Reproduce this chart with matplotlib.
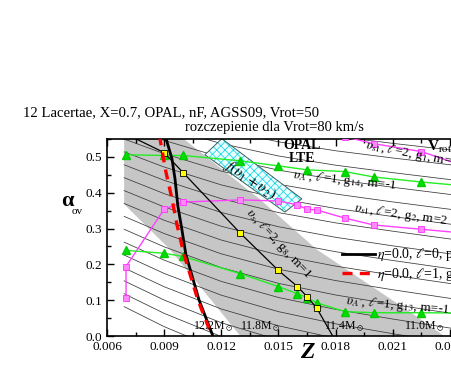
import numpy as np
import matplotlib.pyplot as plt
from matplotlib.ticker import MultipleLocator, FormatStrFormatter

plt.rcParams['font.family'] = ['Liberation Serif', 'DejaVu Serif']
plt.rcParams['mathtext.fontset'] = 'stix'
plt.rcParams['hatch.linewidth'] = 0.6

# constant-mass lines: alpha at Z=0.0069 and at Z=0.027, shared bend along Z
iso_z = [0.0069, 0.009, 0.012, 0.015, 0.018, 0.021, 0.024, 0.027]
iso_bend = [0.0, 0.19, 0.415, 0.585, 0.711, 0.813, 0.908, 1.0]
iso_left = [0.082, 0.118, 0.154, 0.190, 0.226, 0.262, 0.298, 0.334, 0.370,
            0.406, 0.442, 0.478, 0.514, 0.550, 0.586, 0.622, 0.658, 0.694,
            0.730, 0.766, 0.802]
iso_right = [-0.212, -0.170, -0.128, -0.086, -0.044, -0.002, 0.040, 0.082, 0.124,
             0.166, 0.208, 0.250, 0.292, 0.334, 0.376, 0.418, 0.460, 0.502,
             0.544, 0.586, 0.628]
mass_labels = ['12.2', '11.8', '11.4', '11.0']
mass_label_z = [0.01051, 0.01297, 0.01738, 0.02157]

# grey band
band_z = [0.0069, 0.0069, 0.0093, 0.0130, 0.0237, 0.0223, 0.0170, 0.0140, 0.0098]
band_a = [0.56, 0.368, 0.242, 0.0, 0.0, 0.053, 0.242, 0.383, 0.56]

# eta=0.0 tracks
eta0_z = [0.00905, 0.00941, 0.00957, 0.00972, 0.00993, 0.01014, 0.01083, 0.01156]
eta0_a = [0.56, 0.495, 0.439, 0.363, 0.298, 0.228, 0.101, 0.0]
eta1_z = [0.00875, 0.00909, 0.00941, 0.00967, 0.01004, 0.01077, 0.01151]
eta1_a = [0.56, 0.459, 0.383, 0.312, 0.228, 0.101, 0.0]

# v_s, l=2, g8, m=1 (thin black, yellow squares)
g8_z = [0.0075, 0.009, 0.010, 0.013, 0.015, 0.016, 0.0165, 0.017, 0.01785]
g8_a = [0.551, 0.512, 0.456, 0.287, 0.183, 0.138, 0.110, 0.079, 0.0]

# v_A', l=1, g14 / g13 (green triangles)
g14_z = [0.007, 0.009, 0.010, 0.013, 0.015, 0.0165, 0.0185, 0.020, 0.0225, 0.025]
g14_a = [0.506, 0.504, 0.504, 0.489, 0.475, 0.464, 0.459, 0.444, 0.430, 0.418]
g13_z = [0.007, 0.009, 0.010, 0.013, 0.015, 0.016, 0.0165, 0.017, 0.0185, 0.020, 0.0225, 0.025]
g13_a = [0.239, 0.231, 0.222, 0.174, 0.138, 0.118, 0.107, 0.093, 0.068, 0.065, 0.065, 0.064]

# v_s1, l=2, g2 / g1 (magenta squares)
g2_z = [0.007, 0.007, 0.009, 0.010, 0.013, 0.015, 0.016, 0.0165, 0.017, 0.0185, 0.020, 0.0225, 0.025]
g2_a = [0.107, 0.194, 0.354, 0.374, 0.380, 0.377, 0.366, 0.354, 0.352, 0.329, 0.310, 0.298, 0.286]
g1_z = [0.0185, 0.020, 0.0225, 0.025]
g1_a = [0.556, 0.537, 0.515, 0.470]

# f(v1+v2) box
box_z = [0.01114, 0.01203, 0.01623, 0.01534]
box_a = [0.506, 0.551, 0.383, 0.346]

fig = plt.figure(figsize=(4.52, 3.82), dpi=100)
ax = fig.add_axes([0.2367, 0.1204, 0.885, 0.5157])

ax.fill(band_z, band_a, color='#c6c6c6', lw=0, zorder=0)

for a0, a1 in zip(iso_left, iso_right):
    ax.plot(iso_z, [a0 + (a1 - a0) * b for b in iso_bend], color='#383838', lw=0.55, zorder=1)

ax.fill(box_z, box_a, facecolor='#eaffff', edgecolor='#22d8e8', hatch='xxxx', lw=0, zorder=2)
ax.fill(box_z, box_a, facecolor='none', edgecolor='#406060', lw=0.7, zorder=2)
ax.text(0.0135, 0.437, r'$f(\upsilon_1+\upsilon_2)$', rotation=-33, fontsize=11,
        ha='center', va='center', zorder=3)

sq = dict(color='#ff40ff', lw=1.0, marker='s', ms=5, mfc='#ff88ff', mec='#ff30ff', mew=0.6, zorder=4)
ax.plot(g2_z, g2_a, **sq)
ax.plot(g1_z, g1_a, **sq)
tri = dict(color='#22ee22', lw=1.0, marker='^', ms=6, mfc='#00dd00', mec='#00cc00', zorder=4)
ax.plot(g14_z, g14_a, **tri)
ax.plot(g13_z, g13_a, **tri)

ax.plot(g8_z, g8_a, color='black', lw=0.9, zorder=5)
ax.plot(g8_z[1:-1], g8_a[1:-1], ls='none', marker='s', ms=5, mfc='#ffff00', mec='black',
        mew=0.6, zorder=6)

ax.plot(eta0_z, eta0_a, color='black', lw=2.0, zorder=5,
        label=r'$\eta$=0.0, $\ell$=0, p$_1$')
ax.plot(eta1_z, eta1_a, color='#ff0000', lw=2.4, ls=(0, (3, 2.2)), zorder=6,
        label=r'$\eta$=0.0, $\ell$=1, g$_{14}$')

ax.legend(loc='upper left', bbox_to_anchor=(0.5875, 0.455), frameon=False,
          fontsize=10, handlelength=2.4, handletextpad=0.1, borderpad=0,
          borderaxespad=0, labelspacing=0.2)

for lab, z in zip(mass_labels, mass_label_z):
    ax.text(z, 0.006, lab + r'M$_\odot$', fontsize=8.5, ha='left', va='bottom', zorder=7)

ax.text(0.01623, 0.532, 'OPAL', fontsize=10, fontweight='bold', ha='center', va='center', zorder=7)
ax.text(0.01623, 0.495, 'LTE', fontsize=10, fontweight='bold', ha='center', va='center', zorder=7)
ax.text(0.0228, 0.527, r'V$_{\rm rot}$=80', fontsize=11, fontweight='bold', ha='left', va='center', zorder=7)
ax.text(0.0195, 0.508, r"$\upsilon_{s1}$, $\ell$=2, g$_1$, m=2", fontsize=9.5, rotation=-11,
        ha='left', va='center', zorder=7)
ax.text(0.0157, 0.433, r"$\upsilon_{A'}$, $\ell$=1, g$_{14}$, m=-1", fontsize=9.5, rotation=-6,
        ha='left', va='center', zorder=7)
ax.text(0.0189, 0.338, r"$\upsilon_{s1}$, $\ell$=2, g$_2$, m=2", fontsize=9.5, rotation=-8,
        ha='left', va='center', zorder=7)
ax.text(0.0150, 0.258, r"$\upsilon_{s}$, $\ell$=2, g$_8$, m=1", fontsize=9.5, rotation=-47,
        ha='center', va='center', zorder=7)
ax.text(0.0185, 0.086, r"$\upsilon_{A'}$, $\ell$=1, g$_{13}$, m=-1", fontsize=9.5, rotation=-5,
        ha='left', va='center', zorder=7)

ax.set_xlim(0.006, 0.027)
ax.set_ylim(0.0, 0.55)
ax.xaxis.set_major_locator(MultipleLocator(0.003))
ax.xaxis.set_minor_locator(MultipleLocator(0.0015))
ax.yaxis.set_major_locator(MultipleLocator(0.1))
ax.yaxis.set_minor_locator(MultipleLocator(0.05))
ax.xaxis.set_major_formatter(FormatStrFormatter('%.3f'))
ax.yaxis.set_major_formatter(FormatStrFormatter('%.1f'))
ax.tick_params(which='both', direction='in', top=True, labelsize=9.5, width=1.0)
ax.tick_params(which='major', length=5)
ax.tick_params(which='minor', length=3)
for s in ax.spines.values():
    s.set_linewidth(1.2)

fig.text(307 / 452, 1 - 352 / 382, 'Z', fontsize=17, fontweight='bold', style='italic',
         ha='center', va='center')
fig.text(67 / 452, 1 - 201 / 382, 'α', fontsize=16, fontweight='bold', ha='center', va='center')
fig.text(77 / 452, 1 - 211 / 382, 'ov', fontsize=8, ha='center', va='center')

fig.text(23 / 452, 1 - 113 / 382, '12 Lacertae, X=0.7, OPAL, nF, AGSS09, Vrot=50',
         fontsize=10.6, ha='left', va='center')
fig.text(185 / 452, 1 - 128 / 382, 'rozczepienie dla Vrot=80 km/s',
         fontsize=10.5, ha='left', va='center')

fig.savefig('out.png', dpi=100)
